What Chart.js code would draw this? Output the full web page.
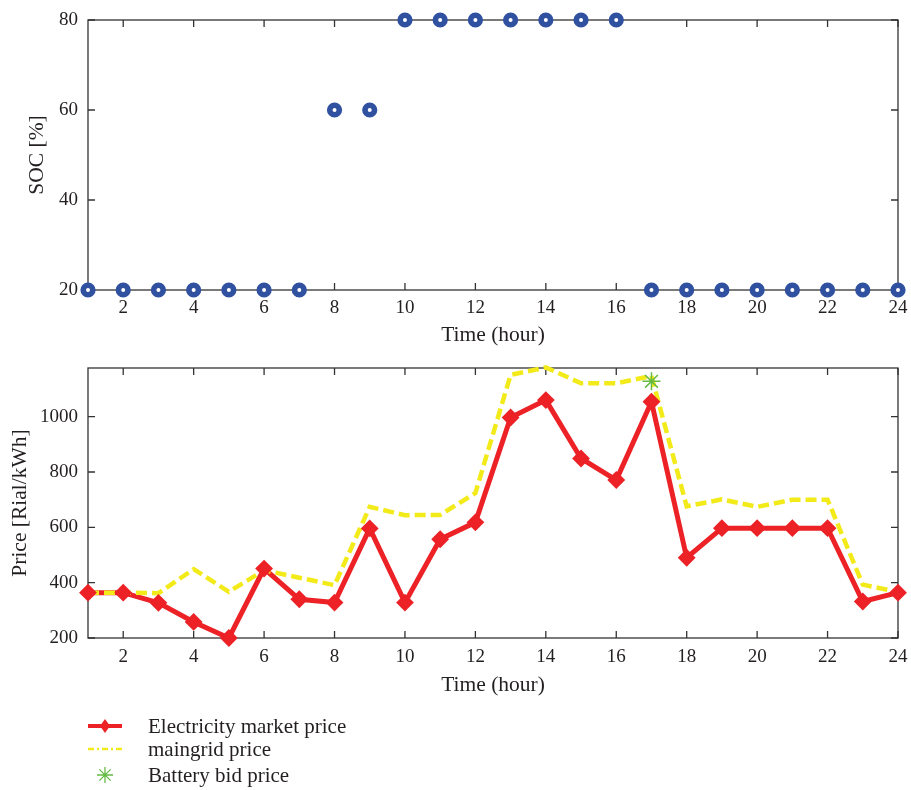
<!DOCTYPE html>
<html>
<head>
<meta charset="utf-8">
<title>SOC and price</title>
<script src="https://cdn.jsdelivr.net/npm/chart.js@4.4.0/dist/chart.umd.min.js"></script>
<style>
    body { margin: 0; background: #fff; }
    canvas { position: absolute; left: 0; }
</style>
</head>
<body>
<canvas id="socChart" width="911" height="350" style="top:0"></canvas>
<canvas id="priceChart" width="911" height="440" style="top:350px"></canvas>
<script>
// values
const hours = [1, 2, 3, 4, 5, 6, 7, 8, 9, 10, 11, 12, 13, 14, 15, 16, 17, 18, 19, 20, 21, 22, 23, 24];
const socValues = [20, 20, 20, 20, 20, 20, 20, 60, 60, 80, 80, 80, 80, 80, 80, 80, 20, 20, 20, 20, 20, 20, 20, 20];
const marketPrice = [364, 364, 327, 258, 200, 451, 340, 328, 596, 328, 557, 618, 997, 1060, 849, 771, 1054, 490, 597, 597, 597, 597, 332, 364];
const maingridPrice = [364, 364, 362, 449, 367, 445, 418, 391, 674, 644, 645, 724, 1151, 1178, 1121, 1121, 1147, 676, 701, 674, 700, 700, 393, 366];
const batteryBidHour = [17];
const batteryBidPrice = [1128];

const hourTicks = [2, 4, 6, 8, 10, 12, 14, 16, 18, 20, 22, 24];
const socTicks = [20, 40, 60, 80];
const priceTicks = [200, 400, 600, 800, 1000];
const legendLabels = ['Electricity market price', 'maingrid price', 'Battery bid price'];

const RED = '#ec2227';
const YELLOW = '#f3ea1a';
const GREEN = '#66bb44';
const BLUE = '#3050a0';
const AXIS = '#333333';
const TEXT = '#231f20';
const FONT = "'Liberation Serif', 'DejaVu Serif', serif";

Chart.defaults.font.family = FONT;
Chart.defaults.color = TEXT;

function points(xs, ys) {
    return xs.map((x, i) => ({ x: x, y: ys[i] }));
}

function fixedTicks(list) {
    return (scale) => { scale.ticks = list.map(v => ({ value: v })); };
}

// MATLAB-style box with inward tick marks on all four sides
const boxTicks = {
    id: 'boxTicks',
    beforeDatasetsDraw(chart) {
        const { ctx, chartArea: a, scales: { x, y } } = chart;
        const len = 7;
        ctx.save();
        ctx.strokeStyle = AXIS;
        ctx.lineWidth = 1.3;
        ctx.strokeRect(a.left, a.top, a.right - a.left, a.bottom - a.top);
        ctx.beginPath();
        x.ticks.forEach(t => {
            const px = x.getPixelForValue(t.value);
            ctx.moveTo(px, a.bottom); ctx.lineTo(px, a.bottom - len);
            ctx.moveTo(px, a.top); ctx.lineTo(px, a.top + len);
        });
        y.ticks.forEach(t => {
            const py = y.getPixelForValue(t.value);
            ctx.moveTo(a.left, py); ctx.lineTo(a.left + len, py);
            ctx.moveTo(a.right, py); ctx.lineTo(a.right - len, py);
        });
        ctx.stroke();
        ctx.restore();
    }
};

function xAxis(pad, titlePad) {
    return {
        type: 'linear',
        min: 1,
        max: 24,
        afterBuildTicks: fixedTicks(hourTicks),
        afterFit: (s) => { s.height = 60; s.paddingLeft = 0; s.paddingRight = 0; },
        grid: { display: false, drawTicks: false },
        border: { display: false },
        ticks: { padding: pad, font: { size: 19 }, color: TEXT, callback: (v) => String(v) },
        title: { display: true, text: 'Time (hour)', font: { size: 21.5 }, color: TEXT, padding: { top: 0, bottom: titlePad } }
    };
}

function yAxis(min, max, list, title, titlePad) {
    return {
        type: 'linear',
        min: min,
        max: max,
        afterBuildTicks: fixedTicks(list),
        afterFit: (s) => { s.width = 88; s.paddingTop = 0; s.paddingBottom = 0; },
        grid: { display: false, drawTicks: false },
        border: { display: false },
        ticks: { padding: 10, font: { size: 19 }, color: TEXT, callback: (v) => String(v) },
        title: { display: true, text: title, font: { size: 21.5 }, color: TEXT, padding: { top: titlePad, bottom: 0 } }
    };
}

const commonOptions = {
    responsive: false,
    animation: false,
    events: [],
    plugins: { legend: { display: false }, tooltip: { enabled: false } }
};

new Chart(document.getElementById('socChart'), {
    type: 'line',
    data: {
        datasets: [{
            label: 'SOC',
            data: points(hours, socValues),
            showLine: false,
            pointStyle: 'circle',
            pointRadius: 4.8,
            pointBorderWidth: 5.6,
            pointBorderColor: BLUE,
            pointBackgroundColor: '#ffffff',
            clip: false
        }]
    },
    options: {
        ...commonOptions,
        layout: { padding: { top: 20, right: 13, bottom: 0, left: 0 } },
        scales: {
            x: xAxis(7, 2),
            y: yAxis(20, 80, socTicks, 'SOC [%]', 24)
        }
    },
    plugins: [boxTicks]
});

// legend drawn under the price axes
const priceLegend = {
    id: 'priceLegend',
    afterDraw(chart) {
        const ctx = chart.ctx;
        const x0 = 88, x1 = 122, xm = 105, tx = 148;
        const rows = [376, 399, 425];
        ctx.save();

        // market price: solid red with diamond
        ctx.strokeStyle = RED;
        ctx.lineWidth = 4;
        ctx.beginPath();
        ctx.moveTo(x0, rows[0]); ctx.lineTo(x1, rows[0]);
        ctx.stroke();
        ctx.fillStyle = RED;
        ctx.beginPath();
        ctx.moveTo(xm, rows[0] - 7); ctx.lineTo(xm + 5, rows[0]);
        ctx.lineTo(xm, rows[0] + 7); ctx.lineTo(xm - 5, rows[0]);
        ctx.closePath();
        ctx.fill();

        // maingrid: yellow dash-dot
        ctx.strokeStyle = YELLOW;
        ctx.lineWidth = 2.5;
        ctx.setLineDash([6, 3, 2, 3]);
        ctx.beginPath();
        ctx.moveTo(x0, rows[1]); ctx.lineTo(x1, rows[1]);
        ctx.stroke();
        ctx.setLineDash([]);

        // battery bid: green asterisk
        ctx.strokeStyle = GREEN;
        ctx.lineWidth = 1.3;
        ctx.beginPath();
        for (let k = 0; k < 4; k++) {
            const ang = k * Math.PI / 4;
            const dx = Math.cos(ang) * 8, dy = Math.sin(ang) * 8;
            ctx.moveTo(xm - dx, rows[2] - dy); ctx.lineTo(xm + dx, rows[2] + dy);
        }
        ctx.stroke();

        ctx.fillStyle = TEXT;
        ctx.font = '21px ' + FONT;
        ctx.textBaseline = 'middle';
        legendLabels.forEach((label, i) => ctx.fillText(label, tx, rows[i] + 1));
        ctx.restore();
    }
};

new Chart(document.getElementById('priceChart'), {
    type: 'line',
    data: {
        datasets: [
            {
                label: legendLabels[2],
                data: points(batteryBidHour, batteryBidPrice),
                showLine: false,
                pointStyle: 'star',
                pointRadius: 9,
                pointBorderWidth: 1.5,
                pointBorderColor: GREEN,
                clip: false
            },
            {
                label: legendLabels[0] + ' markers',
                data: points(hours, marketPrice),
                showLine: false,
                pointStyle: 'rectRot',
                pointRadius: 7.5,
                pointBorderWidth: 2,
                pointBorderColor: RED,
                pointBackgroundColor: RED,
                clip: false
            },
            {
                label: legendLabels[1],
                data: points(hours, maingridPrice),
                borderColor: YELLOW,
                borderWidth: 4.5,
                borderDash: [11, 5],
                pointRadius: 0,
                tension: 0,
                clip: false
            },
            {
                label: legendLabels[0],
                data: points(hours, marketPrice),
                borderColor: RED,
                borderWidth: 5,
                pointRadius: 0,
                tension: 0,
                clip: false
            }
        ]
    },
    options: {
        ...commonOptions,
        layout: { padding: { top: 18, right: 13, bottom: 92, left: 0 } },
        scales: {
            x: xAxis(8, 0),
            y: yAxis(200, 1176, priceTicks, 'Price [Rial/kWh]', 7)
        }
    },
    plugins: [boxTicks, priceLegend]
});
</script>
</body>
</html>
